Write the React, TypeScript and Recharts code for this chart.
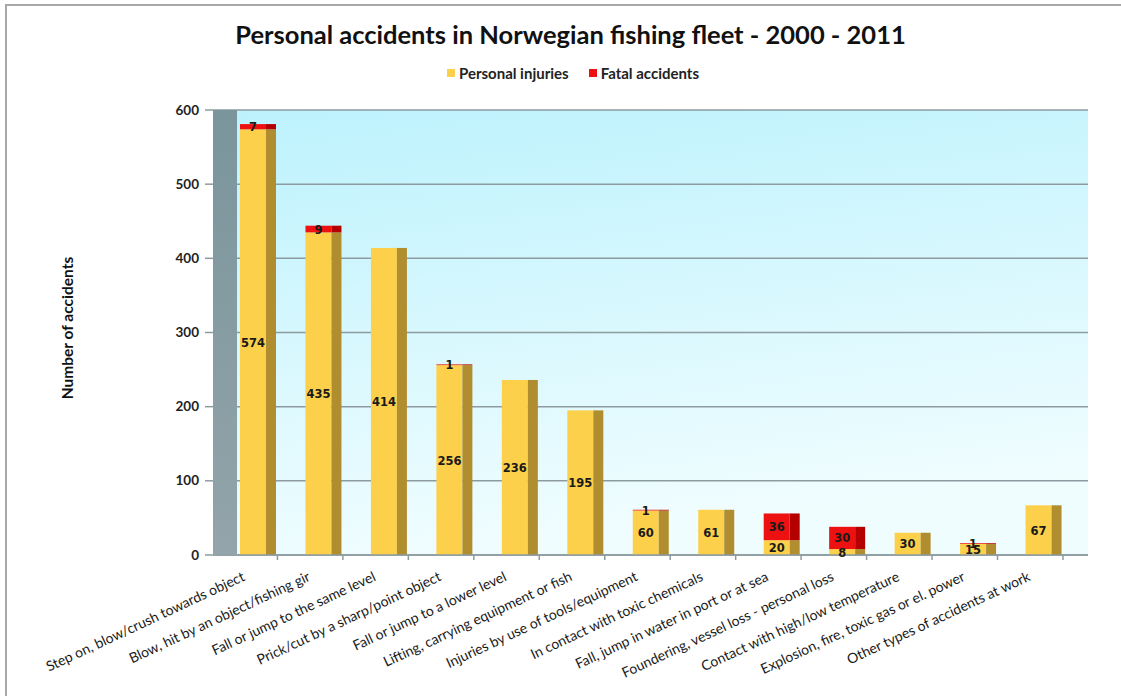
import React from 'react';
import { BarChart, Bar, XAxis, YAxis, CartesianGrid, LabelList } from 'recharts';

// Values (2000 - 2011)
const categories = [
  'Step on, blow/crush towards object',
  'Blow, hit by an object/fishing gir',
  'Fall or jump to the same level',
  'Prick/cut by a sharp/point object',
  'Fall or jump to a lower level',
  'Lifting, carrying equipment or fish',
  'Injuries by use of tools/equipment',
  'In contact with toxic chemicals',
  'Fall, jump in water in port or at sea',
  'Foundering, vessel loss - personal loss',
  'Contact with high/low temperature',
  'Explosion, fire, toxic gas or el. power',
  'Other types of accidents at work',
];
const personalInjuries = [574, 435, 414, 256, 236, 195, 60, 61, 20, 8, 30, 15, 67];
const fatalAccidents = [7, 9, 0, 1, 0, 0, 1, 0, 36, 30, 0, 1, 0];
const yTicks = [0, 100, 200, 300, 400, 500, 600];

const data = categories.map((name, i) => ({
  name,
  injuries: personalInjuries[i],
  fatal: fatalAccidents[i],
}));

const SIDE = 10; // width of the darker "3D" side of each bar
const FONT = 'Lato, "Noto Sans", sans-serif';

const make3D = (front: string, side: string) => (props: any) => {
  const { x, y, width, height } = props;
  if (!height || height <= 0) return null;
  return (
    <g>
      <rect x={x} y={y} width={width - SIDE} height={height} fill={front} />
      <rect x={x + width - SIDE} y={y} width={SIDE} height={height} fill={side} />
    </g>
  );
};

const renderValue = (props: any) => {
  const vb = props.viewBox && props.viewBox.width != null ? props.viewBox : props;
  const { x, y, width, height } = vb;
  const value = props.value;
  if (!value) return null;
  return (
    <text
      x={x + (width - SIDE) / 2}
      y={y + height / 2}
      dy={4.5}
      textAnchor="middle"
      fontFamily="DejaVu Sans"
      fontWeight="bold"
      fontSize={11.5}
      fill="#1a1a1a"
    >
      {value}
    </text>
  );
};

const YTick = (props: any) => {
  const { x, y, payload } = props;
  return (
    <text x={x - 6} y={y} dy={4.5} textAnchor="end" fontFamily={FONT} fontWeight="bold" fontSize={13.5} fill="#222">
      {payload.value}
    </text>
  );
};

const XTick = (props: any) => {
  const { x, y, payload } = props;
  const tx = x - 12;
  const ty = y + 17;
  return (
    <g>
      <line x1={x + 19.7} x2={x + 19.7} y1={y - 8} y2={y - 3} stroke="#8d9ba0" strokeWidth={1.5} />
      <text
        x={tx}
        y={ty}
        textAnchor="end"
        transform={`rotate(-25, ${tx}, ${ty})`}
        fontFamily={FONT}
        fontSize={14}
        fill="#1a1a1a"
      >
        {payload.value}
      </text>
    </g>
  );
};

export default function App() {
  return (
    <div style={{ position: 'absolute', left: 0, top: 0, width: 1121, height: 696, background: '#fff', overflow: 'hidden', fontFamily: FONT }}>
      <style>{'html, body { margin: 0; overflow: hidden; }'}</style>
      {/* outer frame, only its top and left edges fall inside the picture */}
      <div style={{ position: 'absolute', left: 5, top: 4, width: 1200, height: 800, borderTop: '2px solid #a8a8a8', borderLeft: '2px solid #a8a8a8' }} />

      <div style={{ position: 'absolute', left: 0, top: 19, width: 1141, textAlign: 'center', fontSize: 25.5, fontWeight: 'bold', color: '#111' }}>
        Personal accidents in Norwegian fishing fleet - 2000 - 2011
      </div>

      <div style={{ position: 'absolute', left: 0, top: 64, width: 1146, display: 'flex', justifyContent: 'center', gap: 20, fontSize: 15, fontWeight: 'bold', color: '#222' }}>
        <span style={{ display: 'flex', alignItems: 'center', gap: 4 }}>
          <span style={{ width: 8, height: 8, background: '#fcd04b', display: 'inline-block' }} />
          Personal injuries
        </span>
        <span style={{ display: 'flex', alignItems: 'center', gap: 4 }}>
          <span style={{ width: 8, height: 8, background: '#ee1111', display: 'inline-block' }} />
          Fatal accidents
        </span>
      </div>

      <div
        style={{
          position: 'absolute',
          left: 67,
          top: 328,
          transform: 'translate(-50%, -50%) rotate(-90deg)',
          whiteSpace: 'nowrap',
          fontSize: 15.5,
          fontWeight: 'bold',
          color: '#111',
        }}
      >
        Number of accidents
      </div>

      <div style={{ position: 'absolute', left: 0, top: 0 }}>
        <BarChart
          width={1121}
          height={696}
          data={data}
          margin={{ top: 110, right: 33, bottom: 21, left: 153 }}
          barSize={36}
        >
          <defs>
            <linearGradient id="backWall" x1="0" y1="0" x2="0.25" y2="1">
              <stop offset="0%" stopColor="#bcf2fd" />
              <stop offset="100%" stopColor="#f0fdff" />
            </linearGradient>
          </defs>
          <CartesianGrid vertical={false} fill="url(#backWall)" stroke="#8d9ba0" strokeWidth={1.5} />
          <XAxis
            dataKey="name"
            interval={0}
            height={120}
            padding={{ left: 12, right: 12 }}
            tickLine={false}
            axisLine={{ stroke: '#8d9ba0', strokeWidth: 1.5 }}
            tick={<XTick />}
          />
          <YAxis
            type="number"
            domain={[0, 600]}
            ticks={yTicks}
            width={60}
            tickSize={8}
            tickMargin={0}
            axisLine={false}
            tickLine={{ stroke: '#8d9ba0', strokeWidth: 1.5 }}
            tick={<YTick />}
          />
          <Bar dataKey="injuries" stackId="a" shape={make3D('#fcd04b', '#b08e2f')} isAnimationActive={false}>
            <LabelList dataKey="injuries" content={renderValue} />
          </Bar>
          <Bar dataKey="fatal" stackId="a" shape={make3D('#ee1111', '#b40000')} isAnimationActive={false}>
            <LabelList dataKey="fatal" content={renderValue} />
          </Bar>
        </BarChart>
      </div>

      {/* grey side wall of the 3D plot */}
      <div
        style={{
          position: 'absolute',
          left: 213,
          top: 110,
          width: 24,
          height: 445,
          background: 'linear-gradient(#7a959c, #93a4aa)',
        }}
      />
    </div>
  );
}
